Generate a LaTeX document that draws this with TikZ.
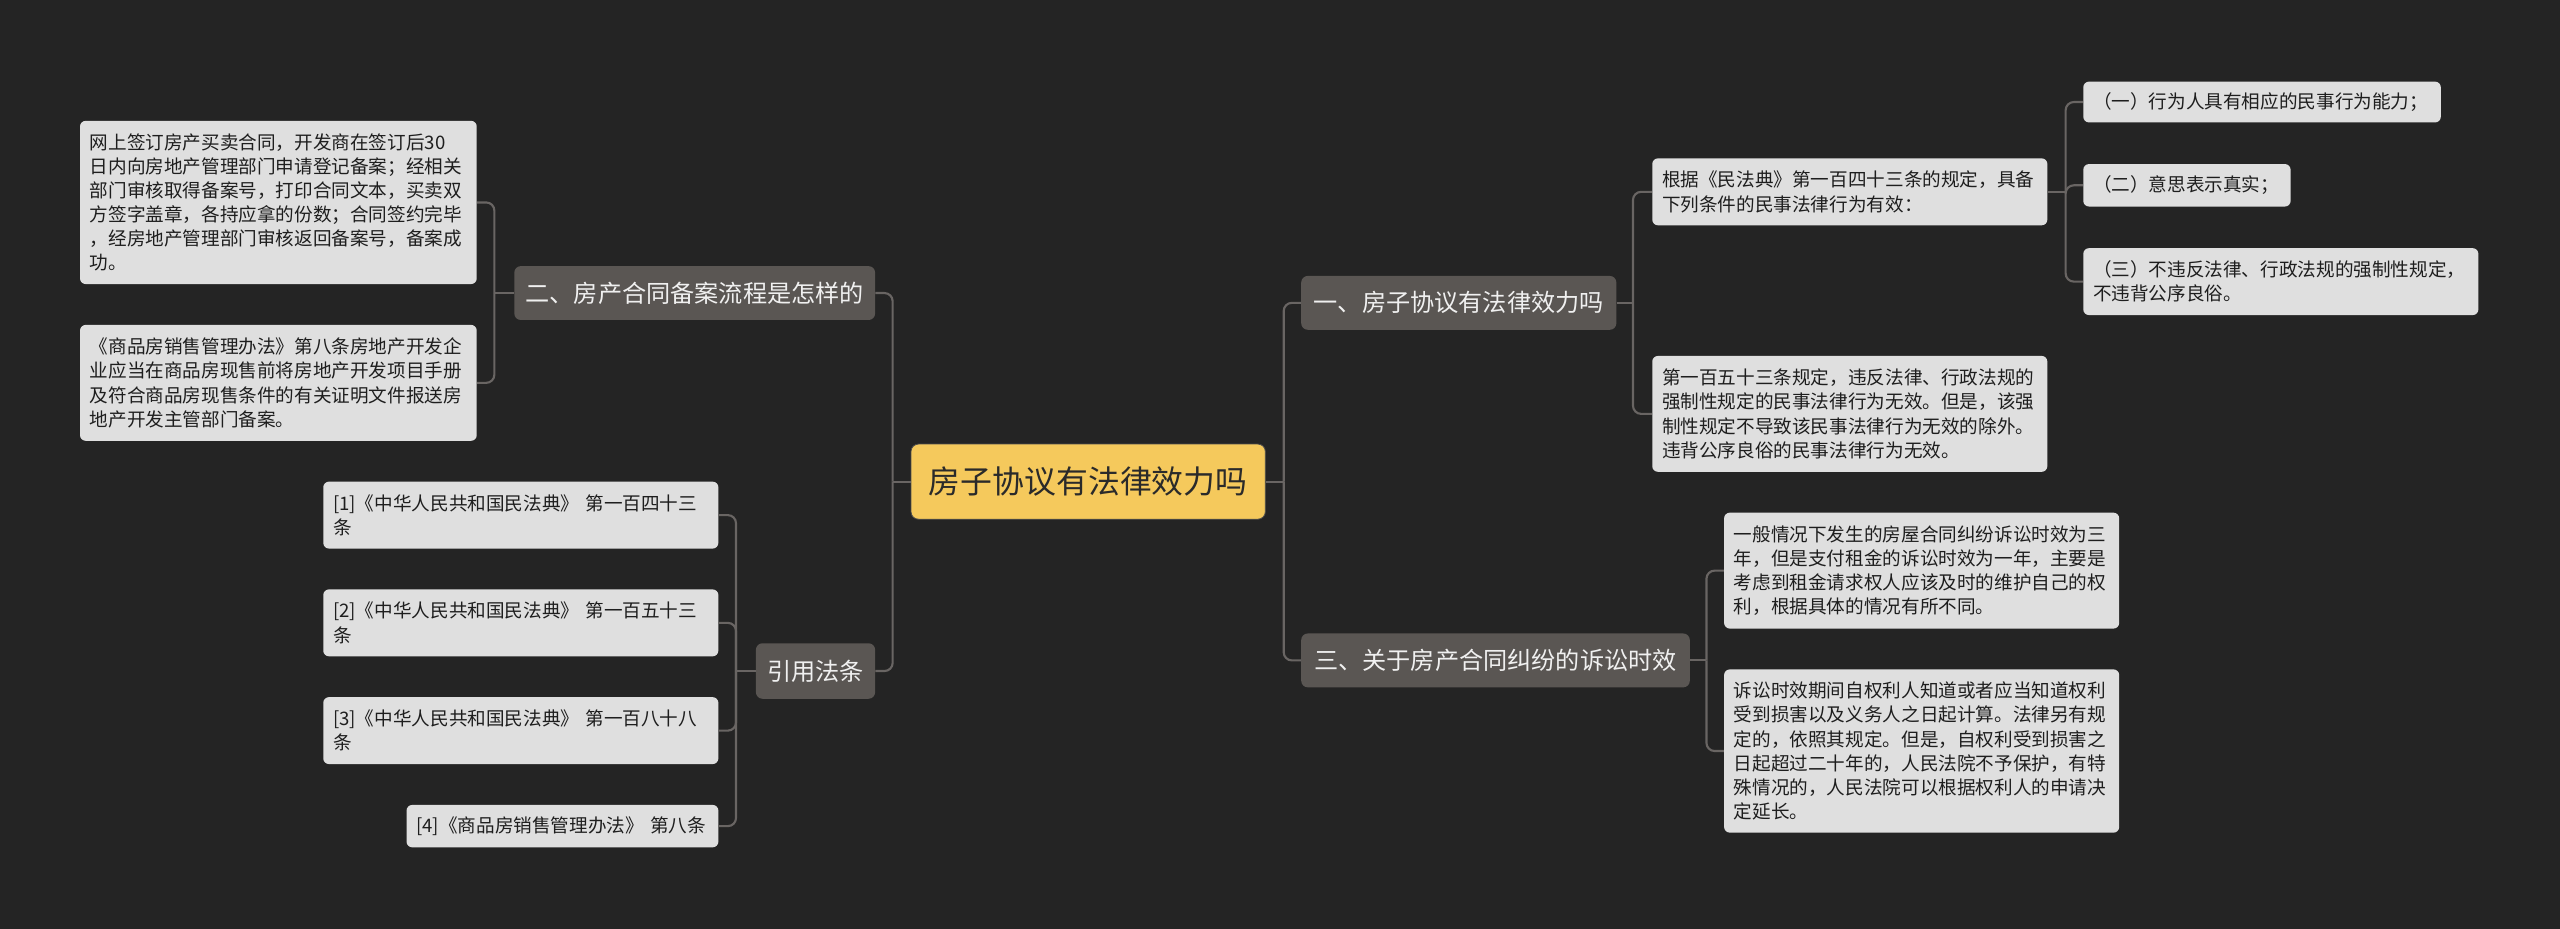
\documentclass[tikz,border=0pt]{standalone}
\usepackage{fontspec}
\setmainfont{Noto Sans CJK SC}
\newfontfamily\cjk{Noto Sans CJK SC}
\definecolor{bgcol}{HTML}{242424}
\definecolor{leaffill}{HTML}{DFDFDF}
\definecolor{leaftext}{HTML}{1E1E1E}
\definecolor{branchfill}{HTML}{5A5653}
\definecolor{branchtext}{HTML}{F0F0F0}
\definecolor{rootfill}{HTML}{F5C95C}
\definecolor{roottext}{HTML}{2A2A2A}
\definecolor{conncol}{HTML}{696563}
\begin{document}
\begin{tikzpicture}[x=1pt,y=-1pt,
  leaf/.style={rectangle, rounded corners=3.5pt, fill=leaffill, text=leaftext,
    inner xsep=6pt, inner ysep=0pt, align=left,
    font=\cjk\fontsize{11.4}{14.8}\selectfont},
  branch/.style={rectangle, rounded corners=4pt, fill=branchfill, text=branchtext,
    inner sep=0pt, font=\cjk\fontsize{14.8}{18}\selectfont},
  root/.style={rectangle, rounded corners=4.5pt, fill=rootfill, text=roottext,
    draw=black!70, line width=0.5pt,
    inner sep=0pt, font=\cjk\fontsize{19.5}{24}\selectfont},
  conn/.style={draw=conncol, line width=1.3pt},
  elbow/.style={conn, rounded corners=5pt}]
\fill[bgcol] (0,0) rectangle (1568,569);
\useasboundingbox (0,0) rectangle (1568,569);

% root
\node[root, minimum width=217pt, minimum height=46pt] (root) at (666.5,295) {房子协议有法律效力吗};

% branches
\node[branch, minimum width=221pt, minimum height=33pt] (b2) at (425.5,179.5) {二、房产合同备案流程是怎样的};
\node[branch, minimum width=73pt, minimum height=34pt] (b4) at (499.5,411) {引用法条};
\node[branch, minimum width=193pt, minimum height=33pt] (b1) at (893.5,185.5) {一、房子协议有法律效力吗};
\node[branch, minimum width=238pt, minimum height=33pt] (b3) at (916,404.5) {三、关于房产合同纠纷的诉讼时效};

% left leaves
\node[leaf, text width=231pt, minimum height=100pt] (la) at (170.5,124) {网上签订房产买卖合同，开发商在签订后30\\日内向房地产管理部门申请登记备案；经相关\\部门审核取得备案号，打印合同文本，买卖双\\方签字盖章，各持应拿的份数；合同签约完毕\\，经房地产管理部门审核返回备案号，备案成\\功。};
\node[leaf, text width=231pt, minimum height=71pt] (lb) at (170.5,234.5) {《商品房销售管理办法》第八条房地产开发企\\业应当在商品房现售前将房地产开发项目手册\\及符合商品房现售条件的有关证明文件报送房\\地产开发主管部门备案。};
\node[leaf, text width=230pt, minimum height=41pt] (l1) at (319,315.5) {[1]《中华人民共和国民法典》 第一百四十三\\条};
\node[leaf, text width=230pt, minimum height=41pt] (l2) at (319,381.5) {[2]《中华人民共和国民法典》 第一百五十三\\条};
\node[leaf, text width=230pt, minimum height=41pt] (l3) at (319,447.5) {[3]《中华人民共和国民法典》 第一百八十八\\条};
\node[leaf, text width=179pt, minimum height=26pt] (l4) at (344.5,506) {[4]《商品房销售管理办法》 第八条};

% right leaves
\node[leaf, text width=230pt, minimum height=41pt] (r1) at (1133,117.5) {根据《民法典》第一百四十三条的规定，具备\\下列条件的民事法律行为有效：};
\node[leaf, text width=230pt, minimum height=71pt] (r2) at (1133,253.5) {第一百五十三条规定，违反法律、行政法规的\\强制性规定的民事法律行为无效。但是，该强\\制性规定不导致该民事法律行为无效的除外。\\违背公序良俗的民事法律行为无效。};
\node[leaf, text width=207pt, minimum height=25pt] (s1) at (1385.5,62.5) {（一）行为人具有相应的民事行为能力；};
\node[leaf, text width=115pt, minimum height=26pt] (s2) at (1339.5,113.5) {（二）意思表示真实；};
\node[leaf, text width=230pt, minimum height=41pt] (s3) at (1397,172.5) {（三）不违反法律、行政法规的强制性规定，\\不违背公序良俗。};
\node[leaf, text width=230pt, minimum height=71pt] (t1) at (1177,349.5) {一般情况下发生的房屋合同纠纷诉讼时效为三\\年，但是支付租金的诉讼时效为一年，主要是\\考虑到租金请求权人应该及时的维护自己的权\\利，根据具体的情况有所不同。};
\node[leaf, text width=230pt, minimum height=100pt] (t2) at (1177,460) {诉讼时效期间自权利人知道或者应当知道权利\\受到损害以及义务人之日起计算。法律另有规\\定的，依照其规定。但是，自权利受到损害之\\日起超过二十年的，人民法院不予保护，有特\\殊情况的，人民法院可以根据权利人的申请决\\定延长。};

% junctions
\coordinate (jL) at ([xshift=-11pt]root.west);
\coordinate (jR) at ([xshift=11pt]root.east);
\coordinate (j2) at ([xshift=-12pt]b2.west);
\coordinate (j4) at ([xshift=-12pt]b4.west);
\coordinate (j1) at ([xshift=10pt]b1.east);
\coordinate (jr1) at ([xshift=11pt]r1.east);
\coordinate (j3) at ([xshift=10pt]b3.east);

% connectors
\draw[conn] (root.west) -- (jL);
\draw[elbow] (jL) |- (b2.east);
\draw[elbow] (jL) |- (b4.east);
\draw[conn] (root.east) -- (jR);
\draw[elbow] (jR) |- (b1.west);
\draw[elbow] (jR) |- (b3.west);

\draw[conn] (b2.west) -- (j2);
\draw[elbow] (j2) |- (la.east);
\draw[elbow] (j2) |- (lb.east);

\draw[conn] (b4.west) -- (j4);
\draw[elbow] (j4) |- (l1.east);
\draw[elbow] (j4) |- (l2.east);
\draw[elbow] (j4) |- (l3.east);
\draw[elbow] (j4) |- (l4.east);

\draw[conn] (b1.east) -- (j1);
\draw[elbow] (j1) |- (r1.west);
\draw[elbow] (j1) |- (r2.west);

\draw[conn] (r1.east) -- (jr1);
\draw[elbow] (jr1) |- (s1.west);
\draw[elbow] (jr1) |- (s2.west);
\draw[elbow] (jr1) |- (s3.west);

\draw[conn] (b3.east) -- (j3);
\draw[elbow] (j3) |- (t1.west);
\draw[elbow] (j3) |- (t2.west);
\end{tikzpicture}
\end{document}
